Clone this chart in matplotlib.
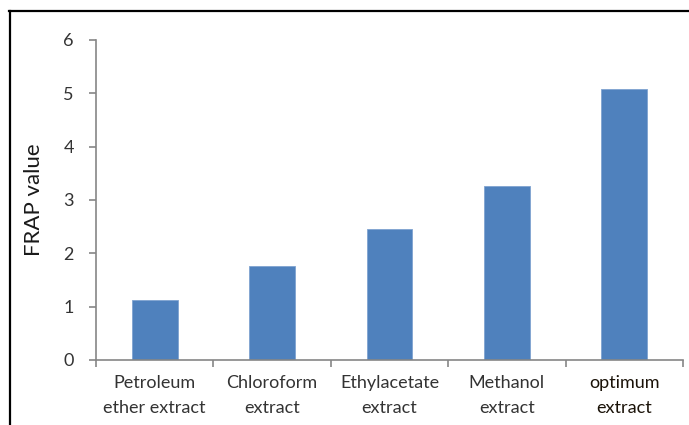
import matplotlib
matplotlib.use("Agg")
import matplotlib.pyplot as plt
from matplotlib.lines import Line2D

categories = ["Petroleum\nether extract", "Chloroform\nextract", "Ethylacetate\nextract",
              "Methanol\nextract", "optimum\nextract"]
frap_values = [1.13, 1.77, 2.46, 3.26, 5.09]
y_ticks = [0, 1, 2, 3, 4, 5, 6]

plt.rcParams['font.family'] = ['Lato', 'DejaVu Sans']

fig = plt.figure(figsize=(6.89, 4.25), dpi=100)
ax = fig.add_axes([96 / 689, 1 - 360 / 425, (683 - 96) / 689, 320 / 425])

x = list(range(len(categories)))
ax.bar(x, frap_values, width=0.39, color="#4F81BD", edgecolor="#7FA3D0", linewidth=0.6, zorder=2)

axis_color = "#868686"
ax.set_xlim(-0.5, len(categories) - 0.5)
ax.set_ylim(0, 6)
ax.set_yticks(y_ticks)
ax.set_xticks(x)
ax.set_xticklabels(categories, fontsize=13, linespacing=1.7)
ax.set_xticks([i - 0.5 for i in range(len(categories) + 1)], minor=True)

for side in ["top", "right"]:
    ax.spines[side].set_visible(False)
for side in ["left", "bottom"]:
    ax.spines[side].set_color(axis_color)
    ax.spines[side].set_linewidth(1.2)

ax.tick_params(axis="x", which="major", length=0, pad=11, colors="#333333")
ax.tick_params(axis="x", which="minor", length=5, width=1.2, color=axis_color, direction="out")
ax.tick_params(axis="y", length=5, width=1.2, color=axis_color, labelcolor="#333333",
               labelsize=13, pad=11)
ax.get_xticklabels()[-1].set_color("#1a1208")

ax.set_ylabel("FRAP value", fontsize=16, color="#1a1a1a", labelpad=14)

# outer frame: top and left edges
fig.add_artist(Line2D([9 / 689, 1.0], [1 - 11 / 425, 1 - 11 / 425], transform=fig.transFigure,
                      color="black", linewidth=1.6))
fig.add_artist(Line2D([10 / 689, 10 / 689], [0.0, 1 - 11 / 425], transform=fig.transFigure,
                      color="black", linewidth=1.6))

fig.savefig("out.png", dpi=100, facecolor="white")
